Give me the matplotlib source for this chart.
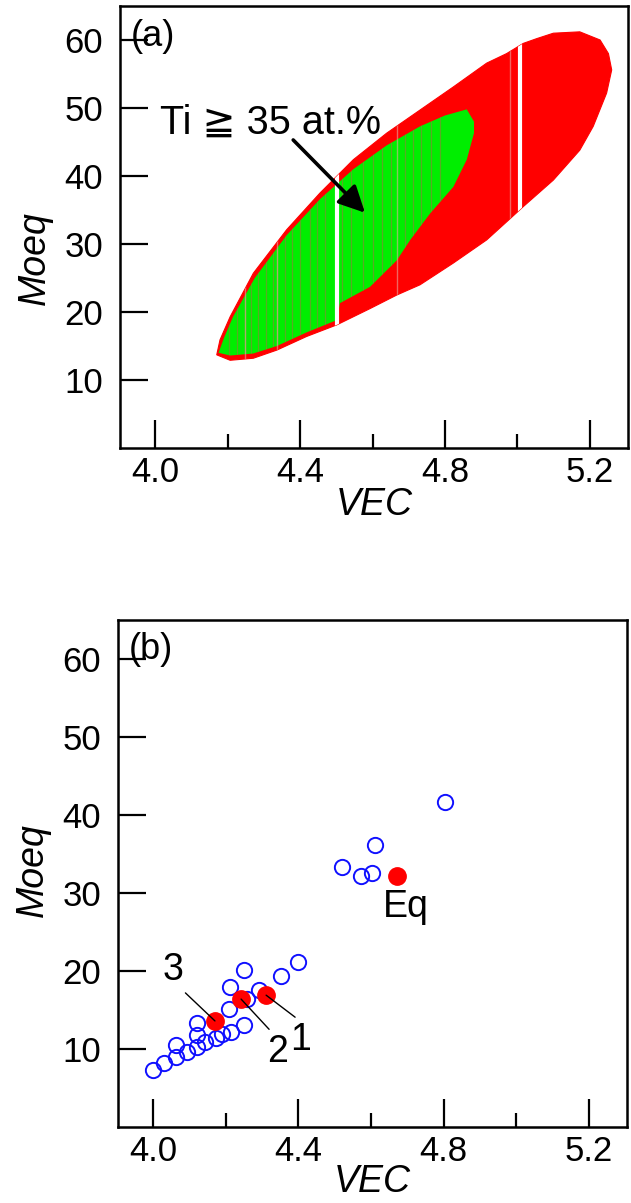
import numpy as np
import matplotlib
matplotlib.use('Agg')
import matplotlib.pyplot as plt

plt.rcParams['font.family'] = ['Liberation Sans', 'DejaVu Sans', 'Noto Sans CJK JP']

# ---- panel (a): envelope of the computed composition cloud ----
red_upper_vec = [4.170, 4.179, 4.207, 4.271, 4.363, 4.455, 4.547, 4.639, 4.731,
                 4.823, 4.915, 4.970, 5.016, 5.053, 5.099, 5.172, 5.228, 5.251, 5.260]
red_upper_moeq = [13.7, 15.9, 19.3, 25.7, 32.1, 37.5, 42.4, 46.3, 49.7,
                  53.1, 56.6, 58.0, 59.5, 60.2, 61.0, 61.2, 60.0, 58.0, 55.6]
red_lower_vec = [4.170, 4.207, 4.271, 4.336, 4.418, 4.501, 4.593, 4.667, 4.731,
                 4.823, 4.915, 4.975, 5.016, 5.099, 5.172, 5.209, 5.246, 5.260]
red_lower_moeq = [13.7, 12.9, 13.2, 14.4, 16.4, 18.1, 20.5, 22.5, 24.0,
                  27.2, 30.6, 33.5, 35.5, 39.4, 43.8, 47.3, 52.2, 55.6]

# Ti >= 35 at.% subset
green_upper_vec = [4.175, 4.190, 4.215, 4.275, 4.363, 4.455, 4.547, 4.639, 4.731, 4.800, 4.860, 4.880]
green_upper_moeq = [14.0, 16.2, 19.3, 25.0, 31.3, 36.6, 41.0, 44.5, 47.3, 48.9, 49.8, 48.0]
green_lower_vec = [4.880, 4.860, 4.823, 4.759, 4.704, 4.667, 4.593, 4.510, 4.501, 4.418, 4.336, 4.271, 4.207]
green_lower_moeq = [46.3, 42.4, 38.4, 34.5, 30.6, 27.6, 23.7, 21.3, 18.8, 17.0, 15.0, 13.9, 13.6]

gap_vec = [4.501, 5.006]
faint_gap_vec = [4.248, 4.336, 4.667, 4.979]
stripe_vec = [4.205, 4.225, 4.248, 4.265, 4.285, 4.305, 4.326, 4.337, 4.358, 4.377, 4.400,
              4.428, 4.446, 4.469, 4.515, 4.540, 4.575, 4.602, 4.625, 4.650, 4.690,
              4.712, 4.735, 4.760, 4.785]

# ---- panel (b): alloys ----
lit_vec = [4.000, 4.030, 4.062, 4.062, 4.092, 4.121, 4.121, 4.121, 4.143, 4.172, 4.190,
           4.213, 4.210, 4.212, 4.251, 4.251, 4.290, 4.257, 4.351, 4.400,
           4.521, 4.572, 4.602, 4.611, 4.803]
lit_moeq = [7.3, 8.2, 9.0, 10.5, 9.6, 10.3, 11.8, 13.3, 10.9, 11.4, 11.9,
            12.2, 15.1, 18.0, 13.1, 20.1, 17.6, 16.4, 19.4, 21.1,
            33.3, 32.2, 32.6, 36.1, 41.7]
our_labels = ['Eq', '1', '2', '3']
our_vec = [4.671, 4.311, 4.242, 4.170]
our_moeq = [32.2, 16.9, 16.4, 13.6]
label_vec = [4.697, 4.407, 4.343, 4.055]
label_moeq = [28.2, 11.2, 9.6, 20.1]

fig = plt.figure(figsize=(6.31, 12.03), dpi=100)
ax_a = fig.add_axes([120/631, 1-448/1203, 508/631, 442/1203])
ax_b = fig.add_axes([118/631, 1-1127/1203, 509/631, 507/1203])

# red cloud
red_x = red_upper_vec + red_lower_vec[::-1]
red_y = red_upper_moeq + red_lower_moeq[::-1]
red_patch = ax_a.fill(red_x, red_y, color='#ff0000', lw=0.8, ec='#ff0000', zorder=1)[0]

green_x = green_upper_vec + green_lower_vec
green_y = green_upper_moeq + green_lower_moeq
green_patch = ax_a.fill(green_x, green_y, color='#00ee00', lw=0, zorder=2)[0]

for v in stripe_vec:
    ln = ax_a.axvline(v, color='#6f9a2c', lw=0.9, alpha=0.8, zorder=3)
    ln.set_clip_path(green_patch)
for v in faint_gap_vec:
    ln = ax_a.axvline(v, color='#e8a8a0', lw=1.0, alpha=0.6, zorder=4)
    ln.set_clip_path(red_patch)
for v in gap_vec:
    ln = ax_a.axvline(v, color='white', lw=3, zorder=4)
    ln.set_clip_path(red_patch)

ax_a.text(4.014, 47.8, 'Ti ≧ 35 at.%', fontsize=28.5, ha='left', va='center')
ax_a.annotate('', xy=(4.579, 34.6), xytext=(4.381, 45.3),
              arrowprops=dict(arrowstyle='-|>', color='black', lw=2.6,
                              mutation_scale=40, shrinkA=0, shrinkB=0), zorder=5)
ax_a.text(3.932, 60.5, '(a)', fontsize=26, ha='left', va='center')

# panel b
ax_b.plot(lit_vec, lit_moeq, 'o', ls='none', ms=11, mfc='none', mec='#1010ff', mew=1.4)
ax_b.plot(our_vec, our_moeq, 'o', ls='none', ms=12.5, color='#ff0000')
rel = {'Eq': None, '1': (0.5, 1.0), '2': (0.3, 1.0), '3': (0.85, 0.0)}
for lab, x, y, tx, ty in zip(our_labels, our_vec, our_moeq, label_vec, label_moeq):
    if rel[lab] is None:
        ax_b.text(tx, ty, lab, fontsize=27, ha='center', va='center')
    else:
        ax_b.annotate(lab, xy=(x, y), xytext=(tx, ty), fontsize=27, ha='center', va='center',
                      arrowprops=dict(arrowstyle='-', color='black', lw=1.0,
                                      relpos=rel[lab], shrinkA=2, shrinkB=0))
ax_b.text(3.932, 61.2, '(b)', fontsize=26, ha='left', va='center')

for ax in (ax_a, ax_b):
    ax.set_xlim(3.903, 5.305)
    ax.set_ylim(0, 65)
    ax.set_xticks([4.0, 4.4, 4.8, 5.2])
    ax.set_xticks([4.2, 4.6, 5.0], minor=True)
    ax.set_yticks([10, 20, 30, 40, 50, 60])
    ax.tick_params(axis='both', which='major', direction='in', length=20, width=1.6,
                   labelsize=25, top=False, right=False)
    ax.tick_params(axis='x', which='minor', direction='in', length=10, width=1.6)
    ax.tick_params(axis='x', which='major', pad=6)
    ax.tick_params(axis='y', which='major', pad=12)
    ax.set_xticklabels(['4.0', '4.4', '4.8', '5.2'])
    for s in ax.spines.values():
        s.set_linewidth(1.8)
    ax.set_ylabel('Moeq', fontsize=27, style='italic')

ax_a.set_xlabel('VEC', fontsize=27, style='italic', labelpad=-2)
ax_b.set_xlabel('VEC', fontsize=27, style='italic', labelpad=-3)
ax_a.yaxis.set_label_coords(-0.132, 0.43)
ax_b.yaxis.set_label_coords(-0.132, 0.507)

fig.savefig('out.png', dpi=100)
